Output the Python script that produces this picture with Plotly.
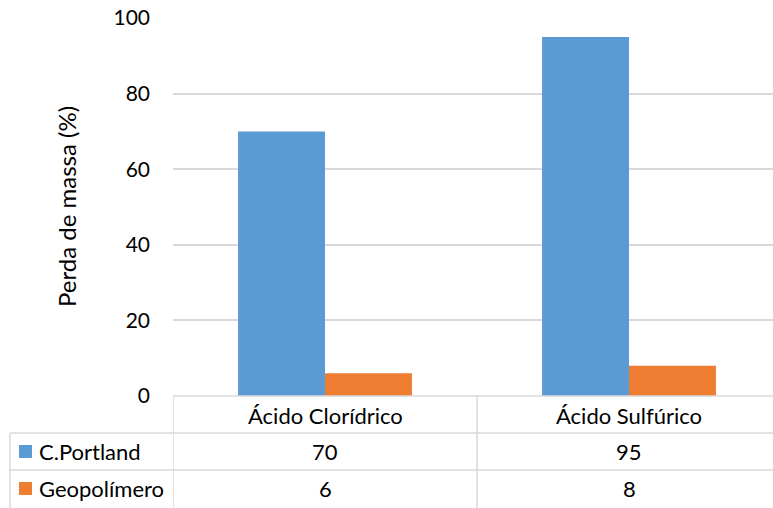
import plotly.graph_objects as go

# Mass loss after acid attack (%)
categories = ["Ácido Clorídrico", "Ácido Sulfúrico"]
series_names = ["C.Portland", "Geopolímero"]
portland = [70, 95]
geopolimero = [6, 8]
y_ticks = [0, 20, 40, 60, 80, 100]

colors = ["#5B9BD5", "#ED7D31"]
grid_color = "#D9D9D9"
font_family = "Lato, 'Open Sans', sans-serif"
text_color = "#000000"
tick_size = 21
table_size = 22
title_size = 24

W, H = 773, 508
ML, MR, MT, MB = 173, 0, 18, 112
plot_w = W - ML - MR
plot_h = H - MT - MB
cat_px = 304  # width of one category band; the last band runs past the right edge


def px_x(px):
    """Horizontal pixel -> paper coordinate."""
    return (px - ML) / plot_w


def px_y(py):
    """Vertical pixel (from top) -> paper coordinate."""
    return (H - MB - py) / plot_h


fig = go.Figure()
for name, vals, col in zip(series_names, [portland, geopolimero], colors):
    fig.add_trace(go.Bar(x=categories, y=vals, name=name, marker_color=col,
                         marker_line_width=0, showlegend=False))

# Data table grid below the plot
shapes = []
line_style = dict(color=grid_color, width=1.5)
shapes.append(dict(type="line", xref="paper", yref="paper",
                   x0=px_x(173), x1=px_x(W), y0=px_y(396), y1=px_y(396), line=line_style))
for yy in [433, 470]:
    shapes.append(dict(type="line", xref="paper", yref="paper",
                       x0=px_x(10), x1=px_x(W), y0=px_y(yy), y1=px_y(yy), line=line_style))
# Column separators: table left edge, left of first category, between categories
shapes.append(dict(type="line", xref="paper", yref="paper",
                   x0=px_x(10), x1=px_x(10), y0=px_y(433), y1=px_y(H), line=line_style))
for xb in [-0.5, 0.5]:
    shapes.append(dict(type="line", xref="x", yref="paper",
                       x0=xb, x1=xb, y0=px_y(396), y1=px_y(H), line=line_style))

# Legend keys inside the table rows
row_centers = [451.5, 488.5]
for yc, col in zip(row_centers, colors):
    shapes.append(dict(type="rect", xref="paper", yref="paper",
                       x0=px_x(19), x1=px_x(32), y0=px_y(yc - 6.5), y1=px_y(yc + 6.5),
                       fillcolor=col, line=dict(width=0)))

table_font = dict(size=table_size, color=text_color, family=font_family)
annotations = []
# Header row with category names
for cat in categories:
    annotations.append(dict(x=cat, xref="x", y=px_y(415), yref="paper",
                            xanchor="center", yanchor="middle",
                            text=cat, showarrow=False, font=table_font))
# Series rows: name + values
for yc, name, vals in zip(row_centers, series_names, [portland, geopolimero]):
    annotations.append(dict(x=px_x(37), xref="paper", y=px_y(yc), yref="paper",
                            xanchor="left", yanchor="middle",
                            text=name, showarrow=False, font=table_font))
    for cat, v in zip(categories, vals):
        annotations.append(dict(x=cat, xref="x", y=px_y(yc), yref="paper",
                                xanchor="center", yanchor="middle",
                                text=str(v), showarrow=False, font=table_font))

# Y axis title
annotations.append(dict(x=px_x(66), xref="paper", y=0.5, yref="paper",
                        xanchor="center", yanchor="middle",
                        text="Perda de massa (%)", textangle=-90, showarrow=False,
                        font=dict(size=title_size, color=text_color, family=font_family)))

fig.update_layout(
    width=W, height=H,
    margin=dict(l=ML, r=MR, t=MT, b=MB),
    paper_bgcolor="white", plot_bgcolor="white",
    barmode="group", bargap=0.428, bargroupgap=0,
    font=dict(family=font_family, size=tick_size, color=text_color),
    shapes=shapes, annotations=annotations,
    xaxis=dict(showticklabels=False, showgrid=False, zeroline=False,
               showline=False, ticks="",
               range=[-0.5, -0.5 + plot_w / cat_px]),
    yaxis=dict(range=[0, 100], tickvals=y_ticks, showgrid=True,
               gridcolor=grid_color, gridwidth=1.5, zeroline=False,
               showline=False, ticks="", ticklabelstandoff=22,
               tickfont=dict(size=tick_size, color=text_color, family=font_family)),
)

fig.write_html("out.html")
